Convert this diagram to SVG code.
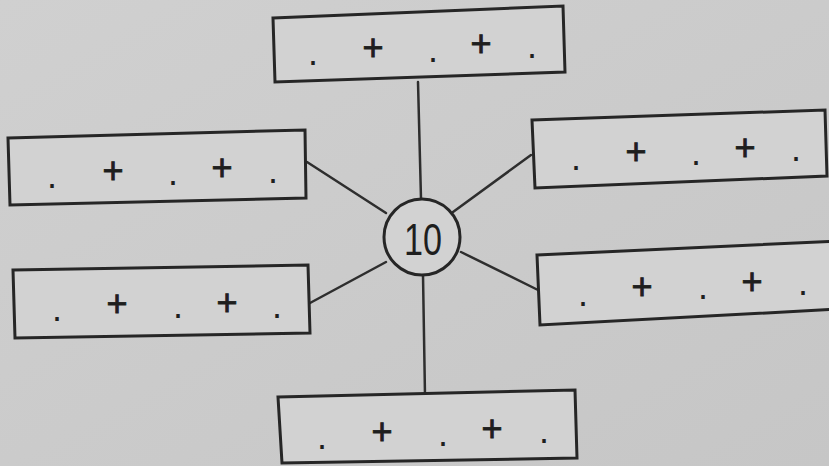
<svg xmlns="http://www.w3.org/2000/svg" width="829" height="466" viewBox="0 0 829 466">
<style>
.box{fill:#d2d2d2;stroke:#262626;stroke-width:3;stroke-linejoin:miter}
.ln{stroke:#2e2e2e;stroke-width:2.5;fill:none;stroke-linecap:round}
.sym{font-family:"Liberation Sans",Arial,sans-serif;font-size:36px;fill:#1e1e1e;text-anchor:middle}
.pl{stroke:#1e1e1e;stroke-width:0.9}
.num{font-family:"Liberation Sans",Arial,sans-serif;font-size:44px;fill:#1e1e1e;text-anchor:middle}
.hub{fill:#d2d2d2;stroke:#262626;stroke-width:3}
</style>
<defs>
<linearGradient id="paper" x1="0" y1="0" x2="1" y2="1">
<stop offset="0" stop-color="#d0d0d0"/>
<stop offset="0.5" stop-color="#cbcbcb"/>
<stop offset="1" stop-color="#c6c6c6"/>
</linearGradient>
</defs>
<rect x="0" y="0" width="829" height="466" fill="url(#paper)"/>

<g id="connectors">
<line class="ln" x1="418" y1="82" x2="421" y2="199"/>
<line class="ln" x1="423" y1="275" x2="425" y2="396"/>
<line class="ln" x1="307" y1="162" x2="386" y2="213"/>
<line class="ln" x1="310" y1="303" x2="386" y2="262"/>
<line class="ln" x1="453" y1="212" x2="531" y2="155"/>
<line class="ln" x1="461" y1="252" x2="538" y2="290"/>
</g>

<g id="hub">
<circle class="hub" cx="422" cy="237" r="38"/>
<text class="num" x="423" y="255" textLength="38" lengthAdjust="spacingAndGlyphs">10</text>
</g>

<g id="box-top">
<polygon class="box" points="273,18 563,6 565,72 275,82"/>
<text class="sym" x="313" y="65">.</text>
<text class="sym pl" x="373" y="60">+</text>
<text class="sym" x="433" y="62">.</text>
<text class="sym pl" x="481" y="56">+</text>
<text class="sym" x="532" y="58">.</text>
</g>

<g id="box-left-top">
<polygon class="box" points="8,138 305,130 306,198 10,205"/>
<text class="sym" x="52" y="188">.</text>
<text class="sym pl" x="113" y="183">+</text>
<text class="sym" x="173" y="185">.</text>
<text class="sym pl" x="222" y="180">+</text>
<text class="sym" x="273" y="183">.</text>
</g>

<g id="box-right-top">
<polygon class="box" points="532,120 825,110 827,176 535,188"/>
<text class="sym" x="576" y="170">.</text>
<text class="sym pl" x="636" y="164">+</text>
<text class="sym" x="696" y="165">.</text>
<text class="sym pl" x="745" y="160">+</text>
<text class="sym" x="796" y="161">.</text>
</g>

<g id="box-left-bottom">
<polygon class="box" points="13,270 308,265 310,333 15,338"/>
<text class="sym" x="57" y="321">.</text>
<text class="sym pl" x="117" y="316">+</text>
<text class="sym" x="178" y="318">.</text>
<text class="sym pl" x="227" y="315">+</text>
<text class="sym" x="277" y="318">.</text>
</g>

<g id="box-right-bottom">
<polygon class="box" points="537,255 840,241 840,309 540,325"/>
<text class="sym" x="583" y="306">.</text>
<text class="sym pl" x="642" y="299">+</text>
<text class="sym" x="703" y="299">.</text>
<text class="sym pl" x="752" y="294">+</text>
<text class="sym" x="803" y="295">.</text>
</g>

<g id="box-bottom">
<polygon class="box" points="278,397 575,390 577,458 282,463"/>
<text class="sym" x="322" y="449">.</text>
<text class="sym pl" x="382" y="444">+</text>
<text class="sym" x="443" y="446">.</text>
<text class="sym pl" x="492" y="441">+</text>
<text class="sym" x="544" y="443">.</text>
</g>
</svg>
